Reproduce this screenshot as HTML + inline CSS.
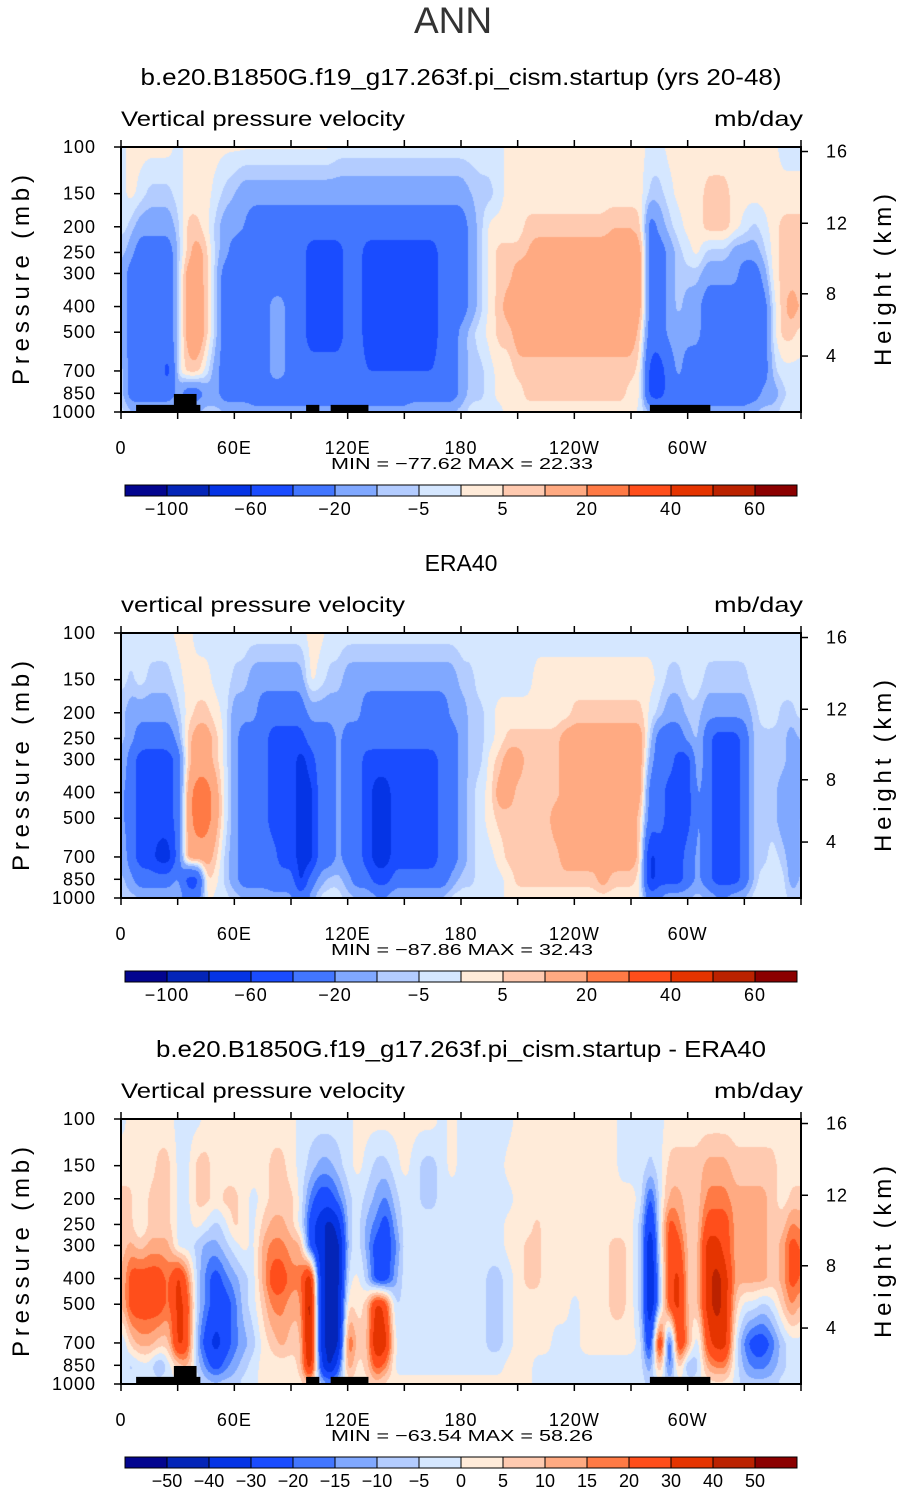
<!DOCTYPE html>
<html><head><meta charset="utf-8">
<style>
html,body{margin:0;padding:0;background:#fff;}
#wrap{position:relative;width:905px;height:1493px;overflow:hidden;font-family:"Liberation Sans",sans-serif;}
canvas{position:absolute;}
svg{position:absolute;left:0;top:0;}
</style></head>
<body>
<div id="wrap">
<canvas id="cv0" width="680" height="265" style="left:121px;top:147px"></canvas>
<canvas id="cv1" width="680" height="265" style="left:121px;top:633px"></canvas>
<canvas id="cv2" width="680" height="265" style="left:121px;top:1119px"></canvas>
<svg id="svg" width="905" height="1493"></svg>
</div>
<script>
// ---- shared axes data ----
const pLevels = [100,150,200,250,300,400,500,700,850,1000];
const pTicks = [100,150,200,250,300,400,500,700,850,1000];
const lonStep = 5;
const xTickLons = [0,60,120,180,240,300];
const xTickLabels = ["0","60E","120E","180","120W","60W"];
const hTicks = [16,12,8,4];
const hTickP = [104,194,358,615];
const colors = ['#03058f','#0425b8','#0534e5','#1a4cff','#4276ff','#80a8ff','#b3ccff','#d5e7ff','#ffebd9','#ffcab0','#ffaa82','#ff7a45','#ff4e1b','#e53400','#bb2200','#8b0000'];
const levelsAbs = [-100,-80,-60,-40,-20,-10,-5,0,5,10,20,30,40,50,60];
const levelsDiff = [-50,-40,-30,-20,-15,-10,-5,0,5,10,15,20,30,40,50];
const cbLabelsAbs = ["-100","-60","-20","-5","5","20","40","60"];
const cbLabelIdxAbs = [1,3,5,7,9,11,13,15];
const cbLabelsDiff = ["-50","-40","-30","-20","-15","-10","-5","0","5","10","15","20","30","40","50"];
const landLonStart = [8,28,98,111,280];
const landLonEnd = [42,40,105,131,312];
const landTopP = [940,855,940,940,940];

// ---- panel 1: model ----
const model100 = [-2,2,2,2,2,2,-2,2,2,2, 2,1,1,1,1,1,1,1,1,1, 1,1,1,-2,-2,-2,-2,-2,-2,-2, -2,-2,-2,-2,-2,-2,-2,-2,-2,-2, -2,2,2,2,2,2,2,2,2,2, 2,2,2,2,2,2,-2,-2,2,2, 2,2,2,2,2,2,2,2,2,2, -2,-2,-2];
const model150 = [-2,2,-2,-7,-7,-7,-2,2,2,2, -2,-7,-10,-15,-15,-15,-15,-15,-15,-15, -15,-15,-15,-15,-15,-15,-15,-15,-15,-15, -15,-15,-15,-15,-15,-15,-15,-10,-7,-7, -2,2,2,2,2,2,2,2,2,2, 2,2,2,2,2,2,-7,-7,-2,2, 2,2,7,7,7,2,2,2,2,2, 2,2,2];
const model200 = [-2,-7,-15,-15,-15,-15,-7,7,7,2, -7,-15,-15,-20,-30,-30,-30,-30,-30,-30, -30,-30,-30,-30,-30,-30,-30,-30,-30,-30, -30,-30,-30,-30,-30,-30,-30,-15,-7,2, 2,2,2,7,7,7,7,7,7,7, 7,7,10,10,10,7,-30,-15,-7,-2, 2,2,7,7,7,2,-2,-7,-2,2, 7,7,7];
const model250 = [-7,-15,-30,-30,-30,-30,-7,7,15,7, -7,-15,-30,-30,-30,-30,-30,-30,-30,-30, -50,-50,-50,-50,-30,-30,-50,-50,-50,-50, -50,-50,-50,-50,-30,-30,-30,-15,-7,2, 7,7,7,10,15,15,15,15,15,15, 15,15,15,15,15,15,-30,-30,-15,-7, -2,2,-7,-7,-7,-15,-15,-15,-7,2, 7,7,7];
const model300 = [-7,-30,-30,-30,-30,-30,-7,15,15,7, -7,-30,-30,-30,-30,-30,-30,-30,-30,-30, -50,-50,-50,-50,-30,-30,-50,-50,-50,-50, -50,-50,-50,-50,-30,-30,-30,-15,-7,2, 7,7,15,15,15,15,15,15,15,15, 15,15,15,15,15,15,-30,-30,-15,-7, -7,-7,-15,-15,-15,-15,-30,-30,-15,2, 7,7,7];
const model400 = [-7,-30,-30,-30,-30,-30,-7,15,20,7, -7,-30,-30,-30,-30,-30,-15,-15,-30,-30, -50,-50,-50,-50,-30,-30,-50,-50,-50,-50, -50,-50,-50,-50,-30,-30,-30,-15,-7,2, 7,15,15,15,15,15,15,15,15,15, 15,15,15,15,15,15,-30,-30,-15,-7, -15,-15,-30,-30,-30,-30,-30,-30,-30,-2, 7,15,7];
const model500 = [-7,-30,-30,-30,-30,-30,-7,15,20,7, -7,-30,-30,-30,-30,-30,-15,-15,-30,-30, -50,-50,-50,-50,-30,-30,-50,-50,-50,-50, -50,-50,-50,-50,-30,-30,-15,-7,-2,2, 7,7,15,15,15,15,15,15,15,15, 15,15,15,15,15,7,-30,-30,-15,-15, -15,-15,-30,-30,-30,-30,-30,-30,-30,-2, 7,7,2];
const model700 = [-2,-30,-30,-30,-30,-50,-2,7,7,-2, -15,-30,-30,-30,-30,-30,-15,-15,-30,-30, -30,-30,-30,-30,-30,-30,-40,-40,-40,-40, -40,-40,-40,-40,-30,-30,-15,-7,-7,-2, 2,2,7,7,7,7,7,7,7,7, 7,7,7,7,7,2,-50,-50,-30,-15, -30,-30,-30,-30,-30,-30,-30,-30,-30,-7, -2,-2,-2];
const model850 = [-2,-30,-30,-30,-30,-30,-15,-30,-30,-15, -15,-30,-30,-30,-30,-30,-30,-30,-30,-30, -30,-30,-30,-30,-30,-30,-30,-30,-30,-30, -30,-30,-30,-30,-30,-30,-15,-7,-7,-2, 2,2,2,7,7,7,7,7,7,7, 7,7,7,7,2,2,-50,-50,-30,-30, -30,-30,-30,-30,-30,-30,-30,-30,-15,-15, -7,-2,-2];
const model1000 = [-2,-7,-7,-7,-7,-7,-7,-7,-7,-7, -7,-7,-7,-7,-15,-15,-15,-15,-15,-15, -15,-15,-15,-15,-15,-15,-15,-15,-15,-15, -15,-7,-7,-7,-7,-7,-7,-2,-2,-2, -2,2,2,2,2,2,2,2,2,2, 2,2,2,2,2,-2,-7,-15,-15,-15, -15,-15,-15,-15,-15,-15,-15,-7,-7,-7, -2,-2,-2];

// ---- panel 2: ERA40 ----
const era100 = [-2,-2,-2,-2,-2,-2,2,2,-2,-2, -2,-2,-2,-2,-2,-2,-2,-2,-2,-2, 2,2,-2,-2,-2,-2,-2,-2,-2,-2, -2,-2,-2,-2,-2,-2,-2,-2,-2,-2, -2,-2,-2,-2,-2,-2,-2,-2,-2,-2, -2,-2,-2,-2,-2,-2,-2,-2,-2,-2, -2,-2,-2,-2,-2,-2,-2,-2,-2,-2, -2,-2,-2];
const era150 = [-2,-7,-2,-7,-7,-7,-2,2,2,2, -2,-2,-7,-7,-15,-15,-15,-15,-15,-15, 2,-2,-7,-7,-15,-15,-15,-15,-15,-15, -15,-15,-15,-15,-15,-15,-7,-7,-2,-2, -2,-2,-2,-2,2,2,2,2,2,2, 2,2,2,2,2,2,2,-2,-7,-7, -2,-2,-7,-7,-7,-7,-7,-2,-2,-2, -2,-2,-2];
const era200 = [-7,-15,-15,-15,-15,-15,-7,2,7,7, 2,-2,-15,-15,-15,-30,-30,-30,-30,-30, -15,-15,-15,-15,-15,-15,-30,-30,-30,-30, -30,-30,-30,-30,-30,-15,-15,-7,-7,-2, 2,2,2,2,2,2,2,2,7,7, 7,7,7,7,7,7,-2,-7,-15,-15, -7,-7,-15,-15,-15,-15,-15,-7,-2,-2, -7,-7,-2];
const era250 = [-7,-15,-30,-30,-30,-30,-15,7,15,15, 7,-2,-15,-30,-30,-30,-50,-50,-50,-50, -30,-30,-30,-15,-30,-30,-30,-30,-30,-30, -30,-30,-30,-30,-30,-30,-15,-7,-7,-2, 2,7,7,7,7,7,7,15,15,15, 15,15,15,15,15,15,-7,-30,-30,-30, -15,-7,-30,-50,-50,-50,-30,-7,-7,-7, -7,-15,-7];
const era300 = [-7,-30,-50,-50,-50,-50,-30,7,15,15, 7,-2,-15,-30,-30,-30,-50,-50,-50,-70, -50,-30,-30,-15,-30,-30,-50,-50,-50,-50, -50,-50,-50,-50,-30,-30,-15,-7,-7,2, 7,15,15,7,7,7,7,15,15,15, 15,15,15,15,15,15,-15,-30,-30,-50, -50,-7,-30,-50,-50,-50,-30,-7,-7,-7, -7,-15,-15];
const era400 = [-15,-30,-50,-50,-50,-50,-30,15,25,25, 15,-2,-15,-30,-30,-30,-50,-50,-50,-70, -70,-30,-30,-15,-30,-30,-50,-70,-70,-50, -50,-50,-50,-50,-30,-30,-15,-7,-2,2, 15,15,7,7,7,7,7,15,15,15, 15,15,15,15,15,15,-30,-30,-50,-50, -50,-15,-30,-50,-50,-50,-30,-7,-7,-7, -15,-15,-15];
const era500 = [-15,-30,-50,-50,-50,-50,-30,15,25,25, 15,-2,-15,-30,-30,-30,-50,-50,-50,-70, -70,-30,-30,-15,-30,-30,-50,-70,-70,-50, -50,-50,-50,-50,-30,-30,-15,-7,-2,2, 7,7,7,7,7,7,15,15,15,15, 15,15,15,15,15,7,-30,-30,-50,-50, -50,-15,-30,-50,-50,-50,-30,-7,-7,-7, -15,-15,-7];
const era700 = [-7,-30,-50,-50,-70,-70,-30,15,15,15, 7,-7,-15,-30,-30,-30,-30,-50,-50,-70, -70,-30,-30,-15,-30,-30,-50,-70,-70,-50, -50,-50,-50,-50,-30,-30,-15,-7,-2,-2, 2,7,7,7,7,7,7,15,15,15, 15,15,15,15,15,7,-70,-50,-50,-50, -30,-15,-30,-50,-50,-50,-30,-7,-7,-2, -7,-15,-7];
const era850 = [-7,-15,-30,-30,-30,-30,-15,-50,-50,7, 2,-7,-15,-30,-30,-30,-30,-30,-30,-70, -30,-15,-7,-7,-15,-30,-30,-50,-50,-30, -30,-30,-30,-30,-30,-15,-7,-7,-2,-2, -2,2,7,7,7,7,7,7,7,7, 7,15,7,7,7,2,-70,-50,-50,-50, -30,-15,-30,-50,-50,-50,-30,-7,-2,-2, -2,-15,-7];
const era1000 = [-7,-7,-7,-7,-7,-7,-7,-30,-30,2, -2,-2,-7,-7,-7,-7,-15,-15,-15,-30, -15,-2,-2,-2,-7,-7,-7,-15,-15,-7, -7,-7,-7,-7,-7,-2,-2,-2,-2,-2, -2,2,2,2,2,2,2,2,2,2, 2,2,2,2,2,2,-30,-15,-7,-7, -7,-7,-7,-15,-15,-7,-7,-2,-2,-2, -2,-7,-7];

// ---- panel 3: difference ----
const diff100 = [-2,2,2,2,2,2,-2,-2,-2,2, 2,2,2,2,2,2,2,2,2,-2, -2,-2,-2,-2,-2,2,2,2,2,2, 2,2,2,2,-2,2,-2,-2,-2,-2, -2,-2,2,2,2,2,2,2,2,2, 2,2,2,-2,-2,-2,-2,-2,2,2, 2,2,2,2,2,2,2,2,2,2, 2,2,2];
const diff150 = [2,2,2,2,7,7,-2,-2,7,7, 2,2,2,2,2,2,7,7,2,-2, -7,-12,-12,-7,-2,2,-2,-7,-7,-2, 2,-2,-7,-7,-2,2,-2,-2,-2,-2, -2,2,2,2,2,2,2,2,2,2, 2,2,2,-2,-2,-2,-7,-2,7,7, 7,7,12,12,12,7,7,7,7,7, 2,2,2];
const diff200 = [7,7,-2,7,7,7,-2,-2,7,7, 2,7,7,2,-2,2,7,7,7,-2, -17,-25,-25,-17,-7,-2,-7,-12,-17,-7, -2,-2,-7,-7,-2,-2,-2,-2,-2,-2, -2,-2,2,2,2,2,2,2,2,2, 2,2,2,2,2,-2,-25,-2,12,12, 7,7,17,17,17,12,12,12,12,7, 2,7,7];
const diff250 = [7,7,-2,7,7,7,-2,-2,2,-2, -7,-2,7,2,-2,7,12,12,7,-2, -25,-35,-45,-35,-7,-2,-12,-17,-25,-12, -2,-2,-2,-2,-2,-2,-2,-2,-2,-2, -2,2,2,2,7,2,2,2,2,2, 2,2,2,2,2,-7,-35,-2,25,17, 7,7,25,25,25,12,12,12,12,7, 7,17,12];
const diff300 = [7,12,7,12,12,12,-2,-2,-7,-12, -12,-7,-2,2,-2,12,17,17,12,12, -25,-35,-45,-45,-7,-2,-12,-25,-25,-17, -2,-2,-2,-2,-2,-2,-2,-2,-2,-2, -2,2,2,7,7,2,2,2,2,2, 2,2,7,7,2,-7,-45,-2,25,25, 7,7,35,35,25,12,12,12,12,7, 12,25,17];
const diff400 = [7,25,25,25,25,17,35,17,-7,-17, -25,-17,-12,-7,-2,12,25,25,17,17, 45,-35,-45,-45,-2,2,-7,-25,-25,-12, -2,-2,-2,-2,-2,-2,-2,-2,-2,-7, -7,-2,2,7,7,2,2,2,2,2, 2,2,7,7,2,-7,-45,-7,25,35, 7,7,35,45,35,12,12,12,12,7, 12,25,17];
const diff500 = [7,25,25,25,25,17,35,25,-7,-17, -25,-25,-17,-7,-2,7,17,17,12,12, 55,-35,-45,-45,7,2,7,35,25,-7, -2,-2,-2,-2,-2,-2,-2,-2,-2,-7, -7,-2,2,2,2,2,2,2,-2,2, 2,2,7,7,2,-7,-45,-7,25,35, 7,7,35,45,35,7,-2,-2,-7,-2, 7,17,7];
const diff700 = [-7,7,12,12,7,7,35,25,-12,-25, -35,-25,-17,-12,-7,2,7,12,7,7, 55,-35,-45,-45,25,7,7,45,35,-2, -2,-2,-2,-2,-2,-2,-2,-2,-2,-7, -7,-2,2,2,2,2,-2,-2,-2,2, 2,2,2,2,2,-2,-35,45,-35,35, 12,-7,25,35,35,-2,-17,-25,-25,-17, -7,-2,-2];
const diff850 = [-2,-7,-2,-2,-12,-2,7,12,-7,-17, -25,-17,-12,-7,-2,2,2,2,2,7, 45,-25,-45,-25,17,2,7,25,17,-2, -2,-2,-2,-2,-2,-2,-2,-2,-2,-2, -2,2,2,2,-2,-2,-2,-2,-2,-2, -2,-2,-2,-2,-2,-2,-17,17,-25,12, -12,-7,12,17,17,-2,-12,-17,-17,-12, -7,-2,-2];
const diff1000 = [-2,-2,-2,-2,-2,-2,-2,-2,-2,-7, -7,-7,-7,-2,-2,2,2,2,2,2, 7,-7,-12,-7,2,2,2,7,2,2, 2,2,2,2,2,2,2,2,2,2, 2,2,2,2,-2,-2,-2,-2,-2,-2, -2,-2,-2,-2,-2,-2,-7,-2,-7,-2, -2,-2,2,2,2,-2,-7,-7,-7,-7, -2,-2,-2];

const panelTitles = ["b.e20.B1850G.f19_g17.263f.pi_cism.startup (yrs 20-48)","ERA40","b.e20.B1850G.f19_g17.263f.pi_cism.startup - ERA40"];
const panelSubs = ["Vertical pressure velocity","vertical pressure velocity","Vertical pressure velocity"];
const panelMin = ["-77.62","-87.86","-63.54"];
const panelMax = ["22.33","32.43","58.26"];

// ---- geometry ----
const PX=121, PW=680, PH=265, TOP0=147, OFF=[0,486,972];
function xOfLon(l){return PX + l/360*PW;}
function yOfP(p,top){return top + (Math.log10(p)-2)*PH;}
const NS='http://www.w3.org/2000/svg';
const svg=document.getElementById('svg');
function mk(tag,attrs,parent){const e=document.createElementNS(NS,tag);for(const k in attrs)e.setAttribute(k,attrs[k]);(parent||svg).appendChild(e);return e;}
function txt(s,attrs,parent){const e=mk('text',attrs,parent);e.textContent=s;return e;}

const grids=[
 [model100,model150,model200,model250,model300,model400,model500,model700,model850,model1000],
 [era100,era150,era200,era250,era300,era400,era500,era700,era850,era1000],
 [diff100,diff150,diff200,diff250,diff300,diff400,diff500,diff700,diff850,diff1000]];
const levelSets=[levelsAbs,levelsAbs,levelsDiff];
const logP=pLevels.map(p=>Math.log10(p));

function val(g,lon,lp){
  const n=g[0].length;
  let fi=lon/lonStep; let i0=Math.floor(fi); if(i0>=n-1)i0=n-2; const tx=fi-i0;
  let j0=0; while(j0<logP.length-2 && lp>logP[j0+1]) j0++;
  const ty=Math.max(0,Math.min(1,(lp-logP[j0])/(logP[j0+1]-logP[j0])));
  const a=g[j0][i0]??0,b=g[j0][i0+1]??0,c=g[j0+1][i0]??0,d=g[j0+1][i0+1]??0;
  return (a*(1-tx)+b*tx)*(1-ty)+(c*(1-tx)+d*tx)*ty;
}
function cls(v,lv){let k=0;for(const b of lv) if(v>=b)k++;return k;}
function hex(c){return [parseInt(c.substr(1,2),16),parseInt(c.substr(3,2),16),parseInt(c.substr(5,2),16)];}
const rgb=colors.map(hex);

function boxBlur(f,w,h,r){
  const t=new Float32Array(w*h);
  for(let y=0;y<h;y++){for(let x=0;x<w;x++){let s=0,n=0;for(let k=-r;k<=r;k++){const xx=x+k;if(xx>=0&&xx<w){s+=f[y*w+xx];n++;}}t[y*w+x]=s/n;}}
  for(let x=0;x<w;x++){for(let y=0;y<h;y++){let s=0,n=0;for(let k=-r;k<=r;k++){const yy=y+k;if(yy>=0&&yy<h){s+=t[yy*w+x];n++;}}f[y*w+x]=s/n;}}
}

for(let pi=0;pi<3;pi++){
  const cv=document.getElementById('cv'+pi),ctx=cv.getContext('2d');
  const im=ctx.createImageData(PW,PH);
  const f=new Float32Array(PW*PH);
  for(let y=0;y<PH;y++){const lp=2+y/PH;
    for(let x=0;x<PW;x++){f[y*PW+x]=val(grids[pi],x/PW*360,lp);}}
  boxBlur(f,PW,PH,3);boxBlur(f,PW,PH,3);
  for(let i=0;i<PW*PH;i++){const c=rgb[cls(f[i],levelSets[pi])];const o=i*4;im.data[o]=c[0];im.data[o+1]=c[1];im.data[o+2]=c[2];im.data[o+3]=255;}
  ctx.putImageData(im,0,0);

  const off=OFF[pi], top=TOP0+off;
  const g=mk('g',{});
  
  
  if(pi===0){
    const t=txt('ANN',{x:453,y:33,'font-size':37,'text-anchor':'middle',fill:'#333'},g);
    
  }
  const tt=txt(panelTitles[pi],{x:461,y:85+off,'font-size':23,'text-anchor':'middle',fill:'#000'},g);
  if(pi!==1){tt.setAttribute('textLength', pi===0?641:610);tt.setAttribute('lengthAdjust','spacingAndGlyphs');}
  
  const st=txt(panelSubs[pi],{x:121,y:126+off,'font-size':21,fill:'#000',textLength:284,lengthAdjust:'spacingAndGlyphs'},g);
  
  const un=txt('mb/day',{x:803,y:126+off,'font-size':21,'text-anchor':'end',fill:'#000',textLength:89,lengthAdjust:'spacingAndGlyphs'},g);
  

  if(pi!==1){
    for(let k=0;k<landLonStart.length;k++){
      const r=mk('rect',{x:xOfLon(landLonStart[k]),y:yOfP(landTopP[k],top),width:xOfLon(landLonEnd[k])-xOfLon(landLonStart[k]),height:top+PH-yOfP(landTopP[k],top),fill:'#000'},g);
      
    }
  }
  const fr=mk('rect',{x:PX,y:top,width:PW,height:PH,fill:'none',stroke:'#000','stroke-width':2},g);
  
  for(let k=0;k<pTicks.length;k++){
    const y=yOfP(pTicks[k],top);
    mk('line',{x1:PX-7,x2:PX,y1:y,y2:y,stroke:'#000','stroke-width':1.5},g);
    const l=txt(String(pTicks[k]),{x:96,y:y+6,'font-size':18,'text-anchor':'end',fill:'#000','letter-spacing':1},g);
    
  }
  const ya=txt('Pressure (mb)',{x:0,y:0,'font-size':24,'text-anchor':'middle',fill:'#000',textLength:210,lengthAdjust:'spacing',transform:`translate(29,${top+133}) rotate(-90)`},g);
  
  for(let k=0;k<hTicks.length;k++){
    const y=yOfP(hTickP[k],top);
    mk('line',{x1:PX+PW,x2:PX+PW+7,y1:y,y2:y,stroke:'#000','stroke-width':1.5},g);
    const l=txt(String(hTicks[k]),{x:826,y:y+6,'font-size':18,fill:'#000','letter-spacing':1},g);
    
  }
  const ha=txt('Height (km)',{x:0,y:0,'font-size':24,'text-anchor':'middle',fill:'#000',textLength:172,lengthAdjust:'spacing',transform:`translate(891,${top+133}) rotate(-90)`},g);
  
  for(let l=0;l<=360;l+=30){
    const x=xOfLon(l);
    mk('line',{x1:x,x2:x,y1:top-7,y2:top,stroke:'#000','stroke-width':1.5},g);
    mk('line',{x1:x,x2:x,y1:top+PH,y2:top+PH+7,stroke:'#000','stroke-width':1.5},g);
  }
  for(let k=0;k<xTickLons.length;k++){
    const l=txt(xTickLabels[k],{x:xOfLon(xTickLons[k]),y:top+PH+42,'font-size':18,'text-anchor':'middle',fill:'#000','letter-spacing':1},g);
    
  }
  const mm=txt(`MIN = \u2212${panelMin[pi].replace('-','')}   MAX =   ${panelMax[pi]}`,{x:331,y:top+PH+57,'font-size':16,fill:'#000','xml:space':'preserve',textLength:262,lengthAdjust:'spacingAndGlyphs'},g);
  
  const cby=485+off;
  for(let k=0;k<16;k++){
    const r=mk('rect',{x:125+k*42,y:cby,width:42,height:11,fill:colors[k],stroke:'#000','stroke-width':1},g);
    
  }
  if(pi<2){
    for(let k=0;k<cbLabelsAbs.length;k++){
      const l=txt(cbLabelsAbs[k].replace('-','\u2212'),{x:125+cbLabelIdxAbs[k]*42,y:cby+30,'font-size':18,'text-anchor':'middle',fill:'#000','letter-spacing':1},g);
      
    }
  } else {
    for(let k=0;k<cbLabelsDiff.length;k++){
      const l=txt(cbLabelsDiff[k].replace('-','\u2212'),{x:125+(k+1)*42,y:cby+30,'font-size':18,'text-anchor':'middle',fill:'#000'},g);
      
    }
  }
}
</script>
</body></html>
